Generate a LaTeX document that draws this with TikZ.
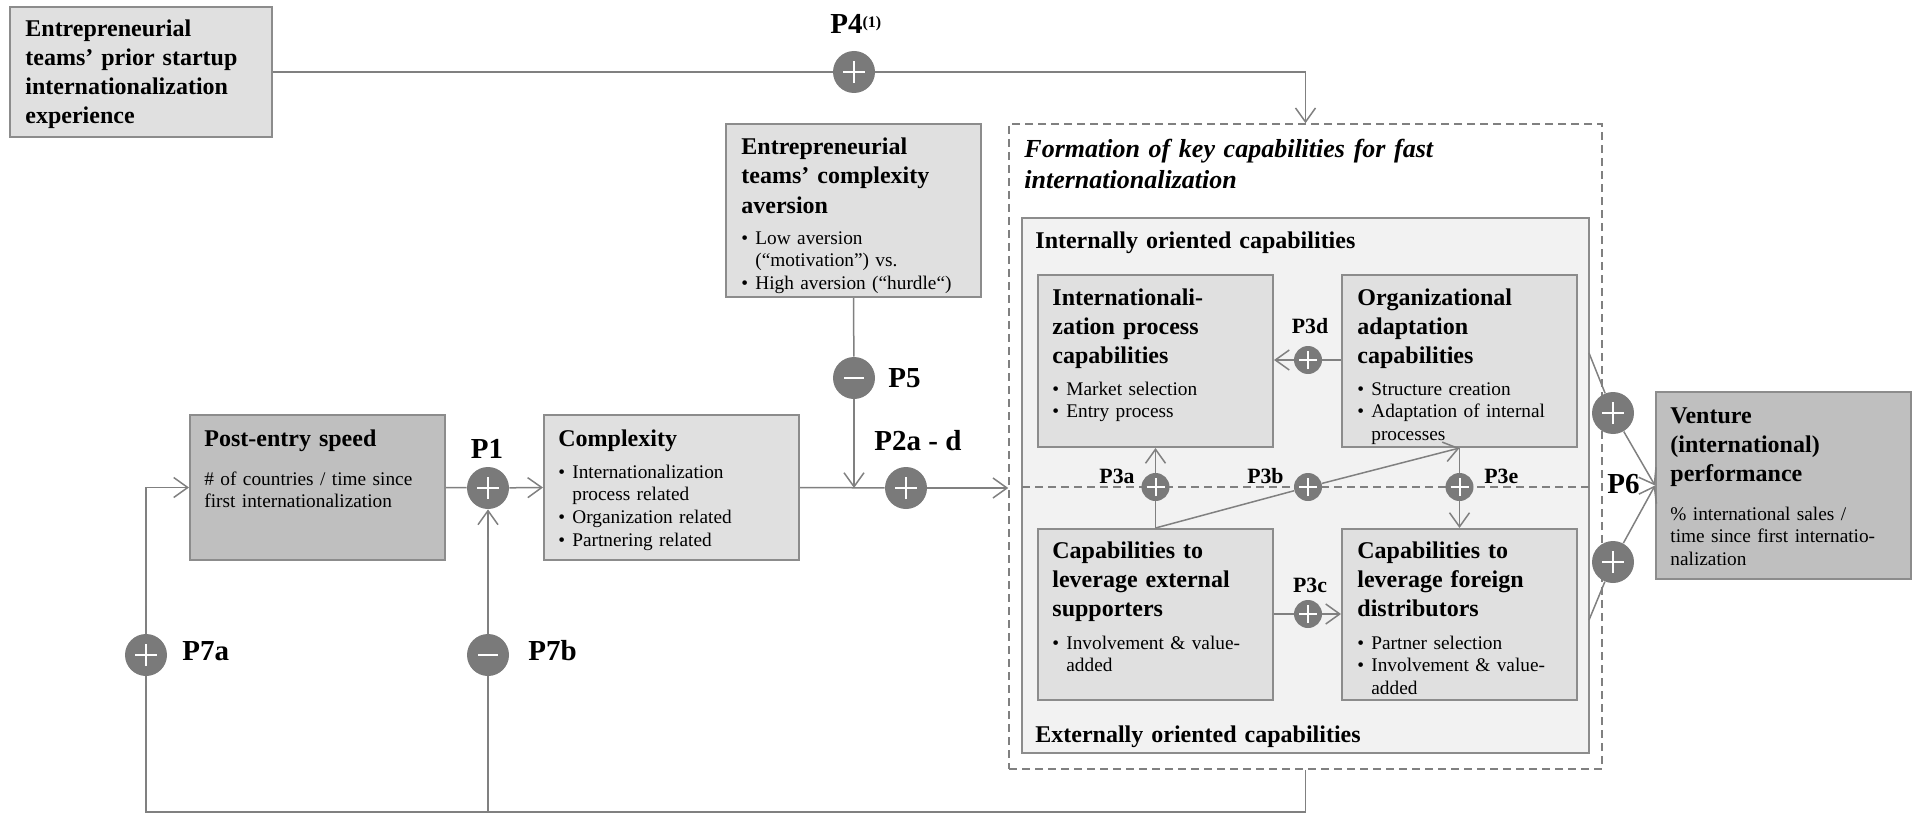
\documentclass[tikz,border=0pt]{standalone}
\usepackage{fontspec}
\setmainfont{Liberation Serif}
\usetikzlibrary{arrows.meta,fit}
\definecolor{lfill}{RGB}{224,224,224}
\definecolor{dfill}{RGB}{191,191,191}
\definecolor{ifill}{RGB}{242,242,242}
\definecolor{bord}{RGB}{140,140,140}
\definecolor{lcol}{RGB}{128,128,128}
\definecolor{ccol}{RGB}{122,122,122}
\newcommand{\hdf}{\fontsize{12}{14.5}\selectfont\bfseries}
\newcommand{\bdf}{\fontsize{9.65}{11.4}\selectfont}
\newcommand{\plf}{\fontsize{14.5}{17}\selectfont\bfseries}
\newcommand{\psf}{\fontsize{10.9}{13}\selectfont\bfseries}
\newcommand{\itm}[1]{\makebox[7pt][l]{•}#1}
\newcommand{\ind}{\hspace*{7pt}}
\begin{document}
\begin{tikzpicture}[x=0.5pt,y=-0.5pt,
  lbox/.style={draw=bord, line width=1pt, fill=lfill, inner sep=0pt},
  dbox/.style={lbox, fill=dfill},
  hd/.style={anchor=base west, inner sep=0pt, text width=130pt, align=left, font=\hdf},
  bd/.style={anchor=base west, inner sep=0pt, text width=130pt, align=left, font=\bdf},
  pl/.style={font=\plf, inner sep=0pt},
  psm/.style={font=\psf, inner sep=0pt},
  conn/.style={draw=lcol, line width=0.75pt},
  arr/.style={conn, -{Straight Barb[length=7pt,width=10pt]}},
  pc/.style={circle, fill=ccol, inner sep=0pt, minimum size=21pt},
  pcs/.style={circle, fill=ccol, inner sep=0pt, minimum size=14pt},
  plus/.style={path picture={\draw[white,line width=1.2pt] (path picture bounding box.center) ++(-5.5pt,0pt) -- ++(11pt,0pt) (path picture bounding box.center) ++(0pt,-5.5pt) -- ++(0pt,11pt);}},
  pluss/.style={path picture={\draw[white,line width=1pt] (path picture bounding box.center) ++(-4.5pt,0pt) -- ++(9pt,0pt) (path picture bounding box.center) ++(0pt,-4.5pt) -- ++(0pt,9pt);}},
  minus/.style={path picture={\draw[white,line width=1.2pt] (path picture bounding box.center) ++(-5pt,0pt) -- ++(10pt,0pt);}},
  dashln/.style={draw=lcol, line width=0.75pt, dash pattern=on 4pt off 2.5pt}
]
\useasboundingbox (0,0) rectangle (1921,813);

% frames
\node[dashln, inner sep=0pt, fit={(1009,124) (1602,769)}] (fb) {};
\node[draw=bord, line width=1pt, fill=ifill, inner sep=0pt, fit={(1022,218) (1589,753)}] (ib) {};
\draw[dashln] (1022,487) -- (1589,487);

% boxes
\node[lbox, fit={(10,7) (272,137)}] (tl) {};
\node[lbox, fit={(726,124) (981,297)}] (av) {};
\node[dbox, fit={(190,415) (445,560)}] (ps) {};
\node[lbox, fit={(544,415) (799,560)}] (cx) {};
\node[lbox, fit={(1038,275) (1273,447)}] (ip) {};
\node[lbox, fit={(1342,275) (1577,447)}] (oa) {};
\node[lbox, fit={(1038,529) (1273,700)}] (es) {};
\node[lbox, fit={(1342,529) (1577,700)}] (fd) {};
\node[dbox, fit={(1656,392) (1911,579)}] (vp) {};

% circles
\node[pc,plus] (c4) at (854,72) {};
\node[pc,minus] (c5) at (854,378) {};
\node[pc,plus] (c1) at (488,488) {};
\node[pc,plus] (c2) at (906,488) {};
\node[pc,plus] (c7a) at (146,655) {};
\node[pc,minus] (c7b) at (488,655) {};
\node[pcs,pluss] (c3a) at (1155.5,487) {};
\node[pcs,pluss] (c3b) at (1308,487) {};
\node[pcs,pluss] (c3e) at (1459.5,487) {};
\node[pcs,pluss] (c3d) at (1308,360) {};
\node[pcs,pluss] (c3c) at (1308,614) {};
\node[pc,plus] (c6a) at (1613,413) {};
\node[pc,plus] (c6b) at (1613,562) {};

% connectors
\draw[conn] (tl.east) -- (c4);
\draw[arr] (c4) -| (fb.north);
\draw[conn] (av.south) -- (c5);
\draw[arr] (c5) -- (c5 |- c2);
\draw[conn] (ps.east) -- (c1);
\draw[arr] (c1) -- (cx.west);
\draw[conn] (cx.east) -- (c2);
\draw[arr] (c2) -- (c2 -| fb.west);
\coordinate (bl) at (146,812);
\draw[conn] (fb.south) |- (bl) -- (c7a);
\draw[arr] (c7a) |- (ps.west);
\draw[conn] (c7b) -- (c7b |- bl);
\draw[arr] (c7b) -- (c1);
\draw[conn] (oa.west |- c3d) -- (c3d);
\draw[arr] (c3d) -- (ip.east |- c3d);
\draw[conn] (es.east |- c3c) -- (c3c);
\draw[arr] (c3c) -- (fd.west |- c3c);
\draw[conn] (es.north) -- (c3a);
\draw[arr] (c3a) -- (ip.south);
\draw[conn] (es.north) -- (c3b);
\draw[arr] (c3b) -- (oa.south);
\draw[conn] (oa.south) -- (c3e);
\draw[arr] (c3e) -- (fd.north);
\coordinate (s6a) at (1589,353);
\coordinate (s6b) at (1589,620);
\draw[conn] (s6a) -- (c6a);
\draw[arr] (c6a) -- (vp.west);
\draw[conn] (s6b) -- (c6b);
\draw[arr] (c6b) -- (vp.west);

% texts
\node[hd] (tlt) at (25,37) {Entrepreneurial\\teams’ prior startup\\internationalization\\experience};
\node[hd] (avt) at (741,155) {Entrepreneurial\\teams’ complexity\\aversion};
\node[bd] (avb) at (741,244) {\itm{Low aversion}\\\ind(“motivation”) vs.\\\itm{High aversion (“hurdle“)}};
\node[hd] (pst) at (204,446) {Post-entry speed};
\node[bd] (psb) at (204,485) {\# of countries / time since\\first internationalization};
\node[hd] (cxt) at (558,446) {Complexity};
\node[bd] (cxb) at (558,478) {\itm{Internationalization}\\\ind process related\\\itm{Organization related}\\\itm{Partnering related}};
\node[anchor=base west, inner sep=0pt, text width=250pt, align=left, font=\fontsize{13}{15.5}\selectfont\bfseries\itshape] (fbt) at (1024,157) {Formation of key capabilities for fast\\internationalization};
\node[hd, text width=200pt] (ibt) at (1035,248) {Internally oriented capabilities};
\node[hd, text width=200pt] (ibb) at (1035,742) {Externally oriented capabilities};
\node[hd] (ipt) at (1052,305) {Internationali-\\zation process\\capabilities};
\node[bd] (ipb) at (1052,395) {\itm{Market selection}\\\itm{Entry process}};
\node[hd] (oat) at (1357,305) {Organizational\\adaptation\\capabilities};
\node[bd] (oab) at (1357,395) {\itm{Structure creation}\\\itm{Adaptation of internal}\\\ind processes};
\node[hd] (est) at (1052,558) {Capabilities to\\leverage external\\supporters};
\node[bd] (esb) at (1052,649) {\itm{Involvement \& value-}\\\ind added};
\node[hd] (fdt) at (1357,558) {Capabilities to\\leverage foreign\\distributors};
\node[bd] (fdb) at (1357,649) {\itm{Partner selection}\\\itm{Involvement \& value-}\\\ind added};
\node[hd] (vpt) at (1670,423) {Venture\\(international)\\performance};
\node[bd] (vpb) at (1670,520) {\% international sales /\\time since first internatio-\\nalization};

% labels
\node[pl, anchor=base west] (l4) at (830,34) {P4\raisebox{3.3pt}{\fontsize{8}{9}\selectfont (1)}};
\node[pl, anchor=base west] (l5) at (888,387) {P5};
\node[pl, anchor=base] (l1) at (487,458) {P1};
\node[pl, anchor=base west] (l2) at (874,450) {P2a - d};
\node[psm, anchor=base] (l3d) at (1310,333) {P3d};
\node[psm, anchor=base east] (l3a) at (1135,483) {P3a};
\node[psm, anchor=base east] (l3b) at (1284,483) {P3b};
\node[psm, anchor=base west] (l3e) at (1484,483) {P3e};
\node[psm, anchor=base] (l3c) at (1310,592) {P3c};
\node[pl, anchor=base west] (l6) at (1607,493) {P6};
\node[pl, anchor=base west] (l7a) at (182,660) {P7a};
\node[pl, anchor=base west] (l7b) at (528,660) {P7b};
\end{tikzpicture}
\end{document}
